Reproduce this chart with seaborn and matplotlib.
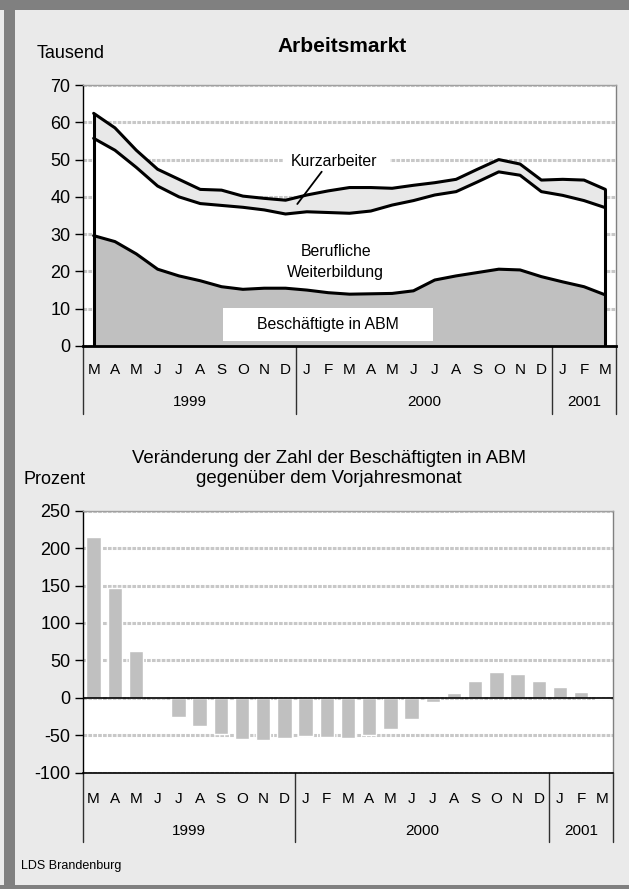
import numpy as np
import matplotlib
matplotlib.use("Agg")
import matplotlib.pyplot as plt
import seaborn as sns
from matplotlib.transforms import blended_transform_factory
from matplotlib.patches import Rectangle
from matplotlib.lines import Line2D

# ---------------- data ----------------
months = ["M", "A", "M", "J", "J", "A", "S", "O", "N", "D",
          "J", "F", "M", "A", "M", "J", "J", "A", "S", "O", "N", "D",
          "J", "F", "M"]
years = ["1999", "2000", "2001"]
year_edges = [-0.5, 9.5, 21.5, 24.5]

# Tausend
abm = [29.6, 28.0, 24.7, 20.6, 18.8, 17.5, 15.9, 15.2, 15.5, 15.5, 15.0, 14.3,
       13.9, 14.0, 14.1, 14.8, 17.7, 18.8, 19.7, 20.6, 20.4, 18.6, 17.2, 15.9, 13.7]
weiterbildung = [26.1, 24.5, 23.2, 22.3, 21.2, 20.7, 21.8, 22.0, 21.0, 19.9, 21.0, 21.5,
                 21.7, 22.2, 23.7, 24.2, 22.8, 22.6, 24.3, 26.1, 25.4, 22.8, 23.2, 23.1, 23.4]
kurzarbeit = [6.7, 6.0, 4.6, 4.5, 4.7, 3.8, 4.1, 3.0, 3.1, 3.7, 4.5, 5.8,
              6.9, 6.3, 4.5, 4.1, 3.3, 3.3, 3.4, 3.3, 3.0, 3.1, 4.3, 5.5, 4.9]
# Prozent
abm_change = [215, 147, 63, 1, -26, -38, -48, -55, -56, -54, -51, -52,
              -54, -50, -42, -28, -6, 6, 22, 35, 32, 22, 15, 8, -2]

# ---------------- style ----------------
sns.set_theme(style="white")
plt.rcParams["font.family"] = ["Liberation Sans", "DejaVu Sans"]

W, H = 629, 889
BG = "#eaeaea"
FRAME = "#808080"
GRID = "#c8c8c8"

fig = plt.figure(figsize=(W / 100, H / 100), dpi=100)
fig.patch.set_facecolor(BG)


def fx(px):
    return px / W


def fy(py):
    return 1 - py / H


def frect(x0, y0, x1, y1, color, z=0.1):
    fig.add_artist(Rectangle((fx(x0), fy(y1)), fx(x1) - fx(x0), fy(y0) - fy(y1),
                             transform=fig.transFigure, facecolor=color,
                             edgecolor="none", zorder=z))


# outer frame
frect(0, 0, W, 10, FRAME)
frect(4, 0, 15, H, FRAME)
frect(0, 885, W, H, FRAME)


def style_axes(ax, ylim, yticks):
    ax.set_facecolor("white")
    ax.set_ylim(*ylim)
    ax.set_xlim(-0.5, 24.5)
    ax.set_yticks(yticks)
    ax.set_yticklabels([str(t) for t in yticks])
    ax.set_xticks([])
    ax.yaxis.grid(True, color=GRID, lw=2.2, ls=(0, (1.2, 0.4)))
    ax.xaxis.grid(False)
    ax.set_axisbelow(True)
    ax.tick_params(axis="y", direction="out", length=6, width=1, color="black",
                   labelsize=13, labelcolor="black", pad=3, left=True)
    ax.spines["left"].set_color("black")
    ax.spines["left"].set_linewidth(1)
    ax.spines["right"].set_color(FRAME)
    ax.spines["right"].set_linewidth(1)
    ax.spines["top"].set_color("#a0a0a0")
    ax.spines["top"].set_linewidth(1)
    ax.spines["bottom"].set_color("black")
    for s in ax.spines.values():
        s.set_visible(True)
    ax.set_xlabel("")
    ax.set_ylabel("")


def category_axis(ax, ax_h, m_off, y_off, s_off):
    tr = blended_transform_factory(ax.transData, ax.transAxes)
    for i, m in enumerate(months):
        ax.text(i, -m_off / ax_h, m, transform=tr, ha="center", va="center",
                fontsize=11, color="black")
    for k, yr in enumerate(years):
        ax.text((year_edges[k] + year_edges[k + 1]) / 2, -y_off / ax_h, yr,
                transform=tr, ha="center", va="center", fontsize=11, color="black")
    for e in year_edges:
        ax.add_line(Line2D([e, e], [0, -s_off / ax_h], transform=tr, color="#303030",
                           lw=1, clip_on=False))


# ---------------- top chart ----------------
top_h = 346 - 85
ax1 = fig.add_axes([fx(83), fy(346), fx(616) - fx(83), top_h / H])
x = np.arange(len(months))
c1 = np.array(abm)
c2 = c1 + np.array(weiterbildung)
c3 = c2 + np.array(kurzarbeit)

ax1.fill_between(x, 0, c1, color="#c0c0c0", lw=0, zorder=1)
ax1.fill_between(x, c1, c2, color="white", lw=0, zorder=1)
ax1.fill_between(x, c2, c3, color="#e8e8e8", lw=0, zorder=1)
for c in (c1, c2, c3):
    sns.lineplot(x=x, y=c, ax=ax1, color="black", lw=2.2, zorder=3)
ax1.vlines([x[0], x[-1]], 0, [c3[0], c3[-1]], color="black", lw=2.2, zorder=3)

style_axes(ax1, (0, 70), list(range(0, 71, 10)))
ax1.spines["bottom"].set_linewidth(2)
category_axis(ax1, top_h, 24, 56, 68)

# ---------------- bottom chart ----------------
bot_h = 772.7 - 510.7
ax2 = fig.add_axes([fx(83), fy(772.7), fx(613) - fx(83), bot_h / H])
sns.barplot(x=x, y=abm_change, ax=ax2, color="#c0c0c0", saturation=1,
            width=0.67, errorbar=None, zorder=2)
ax2.axhline(0, color="black", lw=1.2, zorder=3)
style_axes(ax2, (-100, 250), list(range(-100, 251, 50)))
ax2.spines["bottom"].set_linewidth(1.2)
category_axis(ax2, bot_h, 26.3, 58, 69)

# ---------------- texts ----------------
fig.text(fx(342.5), fy(51.7), "Arbeitsmarkt", ha="center", va="baseline",
         fontsize=15, fontweight="bold", color="black")
fig.text(fx(37), fy(58.3), "Tausend", ha="left", va="baseline", fontsize=13, color="black")

# annotation boxes in the top chart
frect(283, 150, 390, 170, "white", z=2)
fig.text(fx(290.5), fy(166), "Kurzarbeiter", ha="left", va="baseline",
         fontsize=11.4, color="black", zorder=3)
fig.add_artist(Line2D([fx(321.7), fx(297.3)], [fy(171.7), fy(204)],
                      transform=fig.transFigure, color="black", lw=1.3, zorder=3))
fig.text(fx(336), fy(255.7), "Berufliche", ha="center", va="baseline",
         fontsize=11.4, color="black", zorder=3)
fig.text(fx(335), fy(276.7), "Weiterbildung", ha="center", va="baseline",
         fontsize=11.4, color="black", zorder=3)
frect(222.7, 307.7, 433, 340.7, "white", z=2)
fig.text(fx(256.7), fy(329.3), "Beschäftigte in ABM", ha="left", va="baseline",
         fontsize=11.4, color="black", zorder=3)

fig.text(fx(329), fy(462.7), "Veränderung der Zahl der Beschäftigten in ABM",
         ha="center", va="baseline", fontsize=13.4, color="black")
fig.text(fx(329), fy(482.7), "gegenüber dem Vorjahresmonat",
         ha="center", va="baseline", fontsize=13.4, color="black")
fig.text(fx(23.3), fy(484.3), "Prozent", ha="left", va="baseline", fontsize=13, color="black")

fig.text(fx(20.7), fy(869), "LDS Brandenburg", ha="left", va="baseline",
         fontsize=9, color="black")

fig.savefig("out.png", dpi=100, facecolor=fig.get_facecolor())
